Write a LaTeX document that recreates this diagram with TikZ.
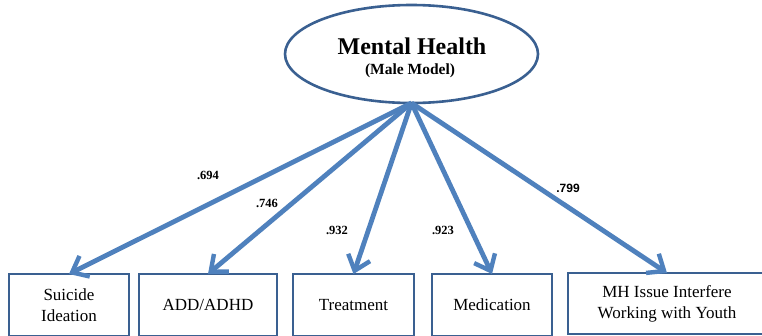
\documentclass[tikz,border=0pt]{standalone}
\usepackage{fontspec}
\setmainfont{Liberation Serif}
\newfontfamily\labelsans{Liberation Sans}
\usetikzlibrary{shapes.geometric,arrows.meta}

\definecolor{arrowblue}{RGB}{79,129,189}
\definecolor{edgeblue}{RGB}{58,96,145}

\tikzset{
  factor/.style={ellipse, draw=edgeblue, line width=2.6pt, fill=white,
    minimum width=253pt, minimum height=98pt, inner sep=0pt, outer sep=0pt},
  itembox/.style={rectangle, draw=edgeblue, line width=2.8pt, fill=white,
    inner sep=0pt, outer sep=0pt, align=center,
    font=\fontsize{17}{21}\selectfont},
  loading/.style={draw=arrowblue, line width=4.8pt,
    -{Straight Barb[length=14pt,width=23pt,line width=4.4pt]}},
  coef/.style={font=\fontsize{12.5}{14}\selectfont\bfseries, inner sep=0pt},
  title/.style={font=\fontsize{24}{28}\selectfont\bfseries, inner sep=0pt},
  subtitle/.style={font=\fontsize{15.5}{18}\selectfont\bfseries, inner sep=0pt}
}

\begin{document}
\begin{tikzpicture}[x=1pt,y=-1pt]
  \useasboundingbox (0,0) rectangle (762,335);
  \fill[white] (0,0) rectangle (762,335);

  % latent factor
  \node[factor] (mh) at (411.5,54) {};
  \node[title] (mhtitle) at (412,46) {Mental Health};
  \node[subtitle] (mhsub) at (410,71) {(Male Model)};

  % observed indicators
  \node[itembox, minimum width=120pt, minimum height=62pt] (sui) at (69,305)
    {Suicide\\Ideation};
  \node[itembox, minimum width=138pt, minimum height=62pt] (add) at (208,305)
    {ADD/ADHD};
  \node[itembox, minimum width=121pt, minimum height=62pt] (trt) at (353.5,305)
    {Treatment};
  \node[itembox, minimum width=120pt, minimum height=62pt] (med) at (492,305)
    {Medication};
  \node[itembox, minimum width=198pt, minimum height=61pt] (work) at (667,303.5)
    {MH Issue Interfere\\Working with Youth};

  % factor loadings
  \draw[loading] (mh.south) -- (sui.north);
  \draw[loading] (mh.south) -- (add.north);
  \draw[loading] (mh.south) -- (trt.north);
  \draw[loading] (mh.south) -- (med.north);
  \draw[loading] (mh.south) -- (work.north);

  \node[coef] (l1) at (208,175) {.694};
  \node[coef] (l2) at (267,203) {.746};
  \node[coef] (l3) at (337,230) {.932};
  \node[coef] (l4) at (443,230) {.923};
  \node[coef, font=\fontsize{12}{14}\selectfont\labelsans\bfseries] (l5) at (568,188) {.799};
\end{tikzpicture}
\end{document}
